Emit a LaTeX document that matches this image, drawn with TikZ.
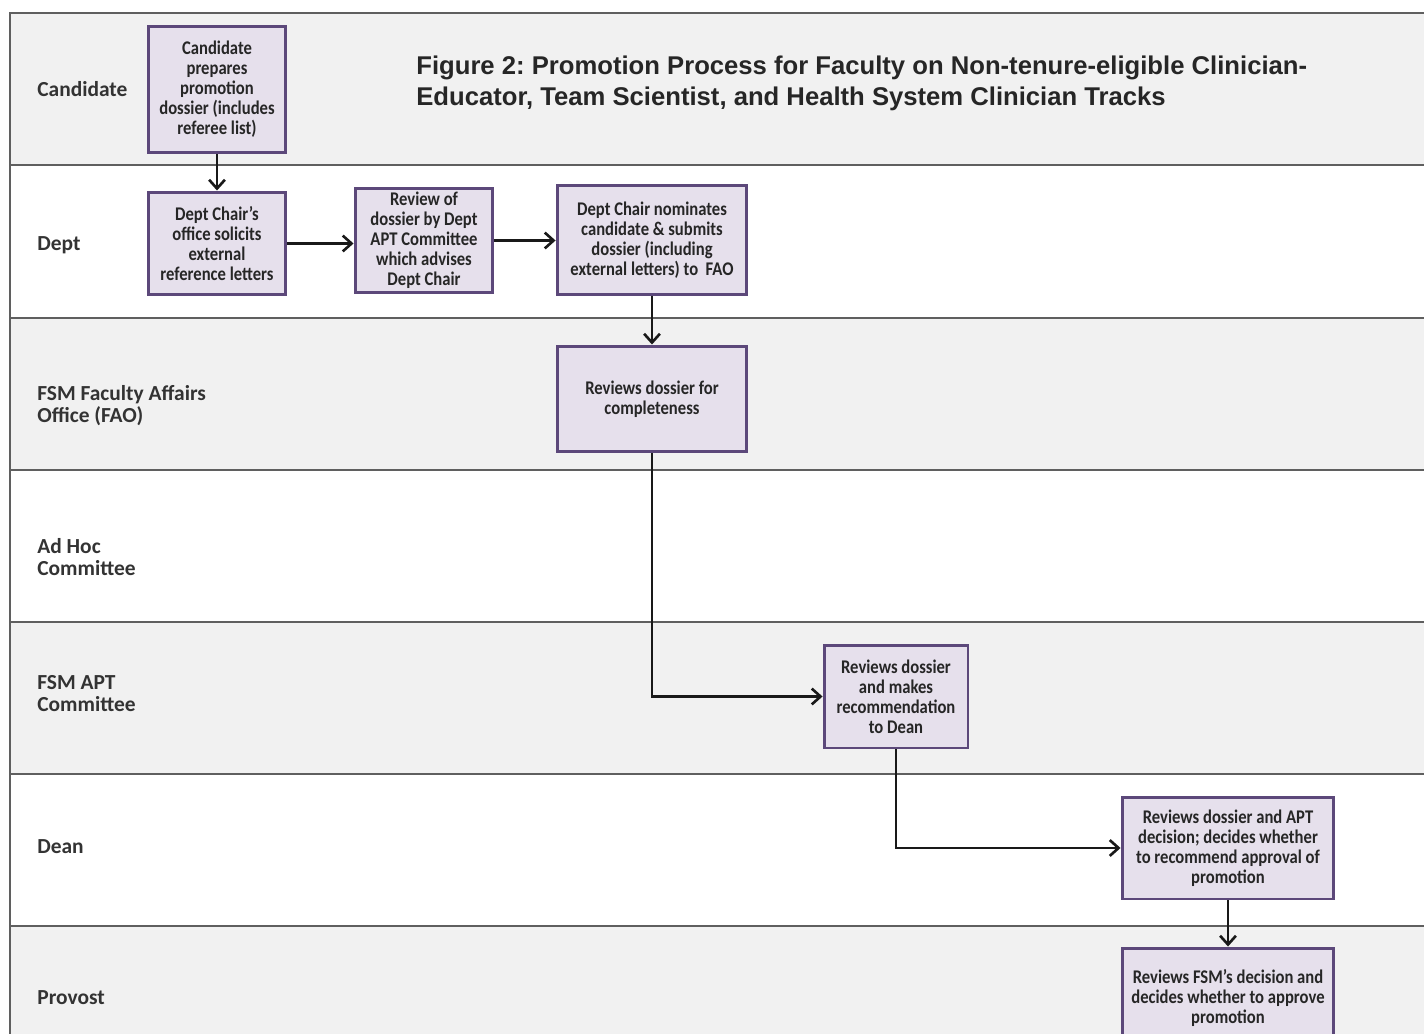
\documentclass[tikz,border=0pt]{standalone}
\usepackage{fontspec}
\usepackage{xcolor}
\usetikzlibrary{arrows.meta,positioning,calc}

\newfontfamily\boxfont[FakeStretch=0.86]{Carlito Bold}
\newfontfamily\lanefont{Carlito}
\newfontfamily\titlefont{Liberation Sans}

\definecolor{boxline}{RGB}{92,72,122}
\definecolor{boxfill}{RGB}{230,224,236}
\definecolor{lanegray}{RGB}{241,241,241}
\definecolor{laneline}{RGB}{95,95,95}

\begin{document}
\frenchspacing
\begin{tikzpicture}[x=0.02cm, y=-0.02cm,
			>={Straight Barb[length=5pt,width=9pt]},
			task/.style={draw=boxline, fill=boxfill, line width=1.7pt, align=center, inner sep=2pt,
				font=\boxfont\fontsize{11}{11.4}\selectfont, text=black!85},
			lanelabel/.style={anchor=west, align=left, inner sep=0pt,
				font=\lanefont\bfseries\fontsize{12.2}{12.5}\selectfont, text=black!80},
			post/.style={->, line width=1.5pt, black!90},
			lane/.style={draw=laneline, line width=1.2pt}]

	\useasboundingbox (0,0) rectangle (1424,1034);
	\clip (0,0) rectangle (1424,1034);

	% swim lanes
	\fill[lanegray] (10,13) rectangle (1430,165);
	\fill[lanegray] (10,318) rectangle (1430,470);
	\fill[lanegray] (10,622) rectangle (1430,774);
	\fill[lanegray] (10,926) rectangle (1430,1040);
	\draw[lane] (1430,13) -- (10,13) -- (10,1040);
	\foreach \y in {165,318,470,622,774,926}
		\draw[lane] (10,\y) -- (1430,\y);

	\node[lanelabel] (lCand) at (37,89) {Candidate};
	\node[lanelabel] (lDept) at (37,245) {Dept};
	\node[lanelabel] (lFAO) at (37,406) {FSM Faculty Affairs\\Office (FAO)};
	\node[lanelabel] (lAdHoc) at (37,557) {Ad Hoc\\Committee};
	\node[lanelabel] (lAPT) at (37,694) {FSM APT\\Committee};
	\node[lanelabel] (lDean) at (37,847) {Dean};
	\node[lanelabel] (lProv) at (37,998) {Provost};

	\node[anchor=north west, align=left, inner sep=0pt,
		font=\titlefont\bfseries\fontsize{14.6}{17.6}\selectfont, text=black!85] (T)
		at (416,56) {Figure 2: Promotion Process for Faculty on Non-tenure-eligible Clinician-\\
		Educator, Team Scientist, and Health System Clinician Tracks};

	% steps
	\node[task, minimum width=2.76cm, minimum height=2.54cm] (prep) at (217,89.5)
		{Candidate\\prepares\\promotion\\dossier (includes\\referee list)};
	\node[task, minimum width=2.76cm, minimum height=2.06cm] (solicit) at (217,243.5)
		{Dept Chair’s\\office solicits\\external\\reference letters};
	\node[task, minimum width=2.76cm, minimum height=2.1cm] (review) at (424,240.5)
		{Review of\\dossier by Dept\\APT Committee\\which advises\\Dept Chair};
	\node[task, minimum width=3.8cm, minimum height=2.2cm] (nominate) at (652,240)
		{Dept Chair nominates\\candidate \& submits\\dossier (including\\external letters) to\ \ FAO};
	\node[task, minimum width=3.8cm, minimum height=2.12cm] (complete) at (652,399)
		{Reviews dossier for\\completeness};
	\node[task, minimum width=2.88cm, minimum height=2.06cm] (aptrec) at (896,696.5)
		{Reviews dossier\\and makes\\recommendation\\to Dean};
	\node[task, minimum width=4.24cm, minimum height=2.04cm] (deanrec) at (1228,848)
		{Reviews dossier and APT\\decision; decides whether\\to recommend approval of\\promotion};
	\node[task, minimum width=4.24cm, minimum height=2cm] (provost) at (1228,998)
		{Reviews FSM’s decision and\\decides whether to approve\\promotion};

	% flow
	\draw[post] (prep) -- (solicit);
	\draw[post] (solicit.east) -- (solicit.east -| review.west);
	\draw[post] (review.east) -- (review.east -| nominate.west);
	\draw[post] (nominate) -- (complete);
	\draw[post] (complete.south) |- (aptrec.west);
	\draw[post] (aptrec.south) |- (deanrec.west);
	\draw[post] (deanrec) -- (provost);

\end{tikzpicture}
\end{document}
